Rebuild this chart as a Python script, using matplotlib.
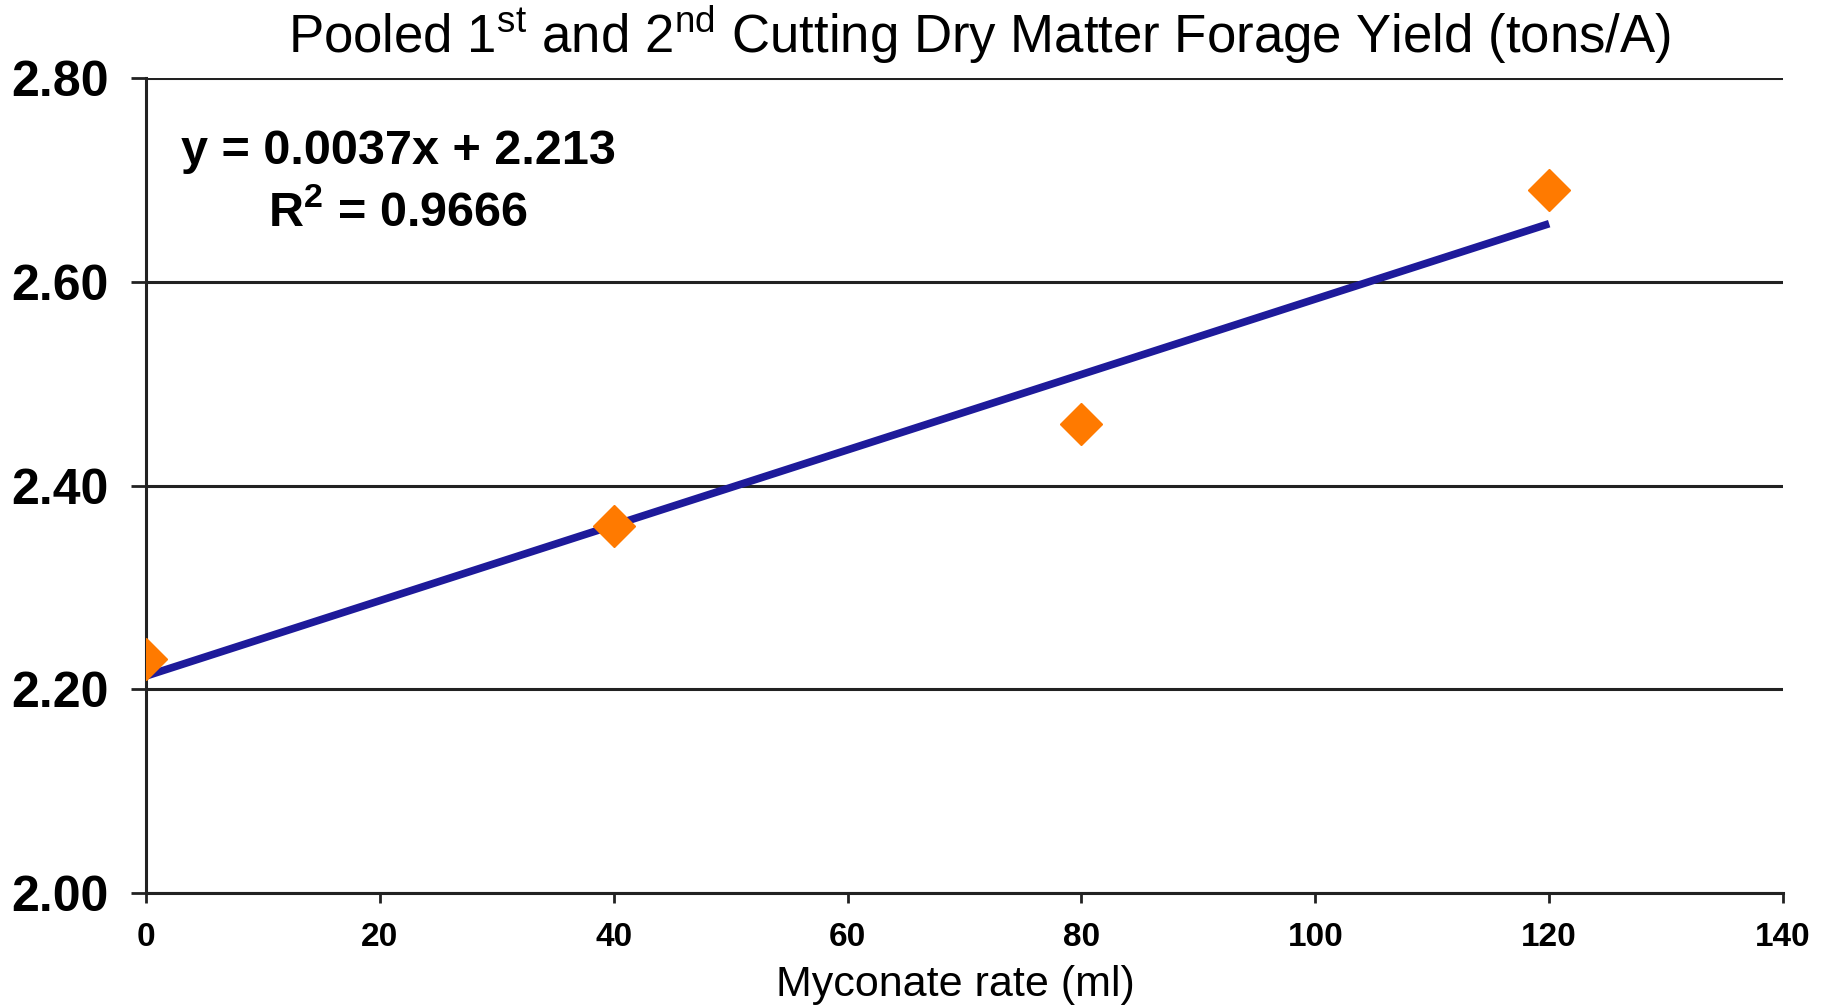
import numpy as np
import matplotlib
matplotlib.use("Agg")
import matplotlib.pyplot as plt

plt.rcParams["font.family"] = ["Liberation Sans", "DejaVu Sans"]
plt.rcParams["mathtext.fontset"] = "custom"
plt.rcParams["mathtext.rm"] = "Liberation Sans"
plt.rcParams["mathtext.bf"] = "Liberation Sans:bold"

# data
rate = [0, 40, 80, 120]
yield_dm = [2.23, 2.36, 2.46, 2.69]
x_ticks = [0, 20, 40, 60, 80, 100, 120, 140]
y_ticks = [2.00, 2.20, 2.40, 2.60, 2.80]

ORANGE = "#FF7A00"
NAVY = "#1E1A9A"
GRID = "#222222"

slope, icpt = np.polyfit(rate, yield_dm, 1)
pred = np.polyval([slope, icpt], rate)
r2 = 1 - np.sum((np.array(yield_dm) - pred) ** 2) / np.sum((np.array(yield_dm) - np.mean(yield_dm)) ** 2)

fig = plt.figure(figsize=(18.31, 10.05), dpi=100)
fig.patch.set_facecolor("white")
ax = fig.add_axes([0.0797, 0.1114, 0.8941, 0.811])

ax.set_xlim(0, 140)
ax.set_ylim(2.0, 2.8)
ax.set_xticks(x_ticks)
ax.set_yticks(y_ticks)
ax.set_xticklabels([str(t) for t in x_ticks], fontsize=24, fontweight="bold")
ax.set_yticklabels([f"{t:.2f}" for t in y_ticks], fontsize=36, fontweight="bold")

ax.grid(axis="y", color=GRID, linewidth=2.2, zorder=1)
ax.set_axisbelow(True)
for side in ("top", "right"):
    ax.spines[side].set_visible(False)
for side in ("left", "bottom"):
    ax.spines[side].set_color(GRID)
    ax.spines[side].set_linewidth(2.2)
ax.tick_params(axis="y", length=11, width=2, color=GRID, pad=16)
ax.tick_params(axis="x", length=7, width=2, color=GRID, pad=14)

# trend line over the data range
xs = np.array([rate[0], rate[-1]])
ax.plot(xs, slope * xs + icpt, color=NAVY, lw=5.5, zorder=3, solid_capstyle="butt")
ax.plot(rate, yield_dm, linestyle="none", marker="D", markersize=21,
        color=ORANGE, markeredgecolor=ORANGE, zorder=4)

ax.text(0.154, 0.910, f"y = {slope:.4f}x + {icpt:.3f}", transform=ax.transAxes,
        ha="center", va="center", fontsize=35, fontweight="bold")
ax.text(0.154, 0.834, r"R$^{\mathbf{2}}$" + f" = {r2:.4f}", transform=ax.transAxes,
        ha="center", va="center", fontsize=35, fontweight="bold")

fig.text(0.535, 0.965, r"Pooled 1$^{\mathrm{st}}$ and 2$^{\mathrm{nd}}$ Cutting Dry Matter Forage Yield (tons/A)",
         ha="center", va="center", fontsize=38)
fig.text(0.522, 0.020, "Myconate rate (ml)", ha="center", va="center", fontsize=31)

fig.savefig("out.png", dpi=100, facecolor="white")
